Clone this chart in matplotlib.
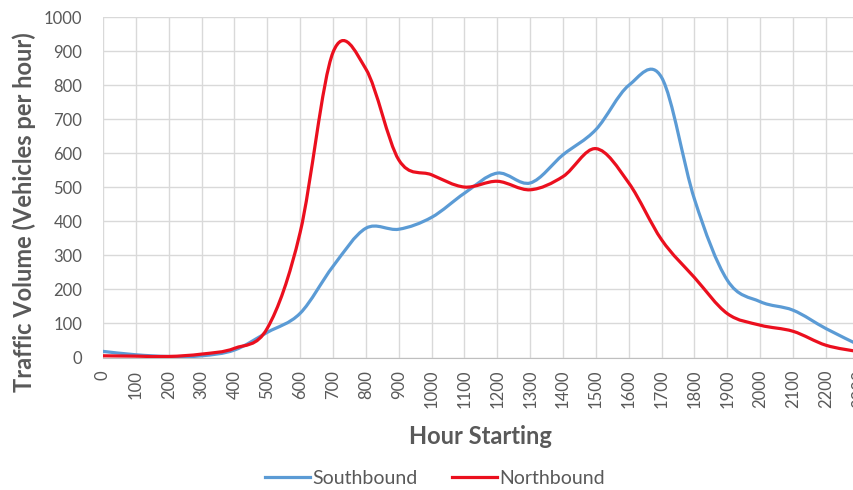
import numpy as np
import matplotlib
matplotlib.use('Agg')
import matplotlib.pyplot as plt
from matplotlib.path import Path
from matplotlib.patches import PathPatch
from matplotlib.lines import Line2D

# Hourly traffic counts
hours = [0, 100, 200, 300, 400, 500, 600, 700, 800, 900, 1000, 1100,
         1200, 1300, 1400, 1500, 1600, 1700, 1800, 1900, 2000, 2100, 2200, 2300]
southbound = [18, 8, 3, 5, 22, 74, 130, 268, 380, 377, 412, 483,
              542, 513, 596, 670, 800, 823, 465, 227, 164, 139, 85, 37]
northbound = [5, 4, 3, 10, 27, 86, 368, 897, 848, 581, 537, 501,
              518, 493, 532, 614, 513, 346, 235, 129, 95, 77, 36, 17]

SB_COLOR = '#5B9BD5'
NB_COLOR = '#EB0F1E'
TEXT_COLOR = '#595959'
GRID_COLOR = '#D9D9D9'

plt.rcParams['font.family'] = ['Lato', 'DejaVu Sans']


def smooth_path(x, y):
    # Excel-style smoothed line: cubic bezier between consecutive points
    pts = np.column_stack([x, y]).astype(float)
    ext = np.vstack([pts[0], pts, pts[-1]])
    verts = [tuple(pts[0])]
    codes = [Path.MOVETO]
    for i in range(len(pts) - 1):
        p_prev, p0, p1, p_next = ext[i], ext[i + 1], ext[i + 2], ext[i + 3]
        c1 = p0 + (p1 - p_prev) / 6.0
        c2 = p1 - (p_next - p0) / 6.0
        verts += [tuple(c1), tuple(c2), tuple(p1)]
        codes += [Path.CURVE4] * 3
    return Path(verts, codes)


fig = plt.figure(figsize=(8.54, 4.9), dpi=100)
ax_w = (858.8 - 103) / 854
ax_h = (357.5 - 17.3) / 490
ax = fig.add_axes([103 / 854, 132.5 / 490, ax_w, ax_h])

for series, color in [(southbound, SB_COLOR), (northbound, NB_COLOR)]:
    patch = PathPatch(smooth_path(hours, series), facecolor='none',
                      edgecolor=color, linewidth=2.3, capstyle='round', zorder=3)
    ax.add_patch(patch)

ax.set_xlim(0, 2300)
ax.set_ylim(0, 1000)
ax.set_xticks(hours)
ax.set_xticklabels([str(h) for h in hours], rotation=90)
ax.set_yticks(range(0, 1001, 100))

ax.grid(True, color=GRID_COLOR, linewidth=1.0)
ax.set_axisbelow(True)
for side in ['top', 'right', 'left']:
    ax.spines[side].set_visible(False)
ax.spines['bottom'].set_color('#BFBFBF')
ax.tick_params(axis='both', length=0, labelsize=12, colors=TEXT_COLOR)
ax.tick_params(axis='x', pad=9)
ax.tick_params(axis='y', pad=15)

# axis titles (positions in pixels converted to axes fractions)
ax.set_xlabel('Hour Starting', fontsize=17, fontweight='bold', color=TEXT_COLOR)
ax.xaxis.set_label_coords((480 - 103) / (858.8 - 103), -(425 - 357.5) / 340.2)
ax.set_ylabel('Traffic Volume (Vehicles per hour)', fontsize=17,
              fontweight='bold', color=TEXT_COLOR)
ax.yaxis.set_label_coords(-(103 - 36) / (858.8 - 103), (357.5 - 212) / 340.2)

handles = [Line2D([], [], color=SB_COLOR, linewidth=2.3),
           Line2D([], [], color=NB_COLOR, linewidth=2.3)]
fig.legend(handles, ['Southbound', 'Northbound'], loc='center',
           bbox_to_anchor=(435 / 854, 1 - 478 / 490), ncol=2, frameon=False,
           fontsize=14, labelcolor=TEXT_COLOR, handlelength=2.3,
           handletextpad=0.1, columnspacing=1.8)

fig.savefig('out.png', dpi=100)
